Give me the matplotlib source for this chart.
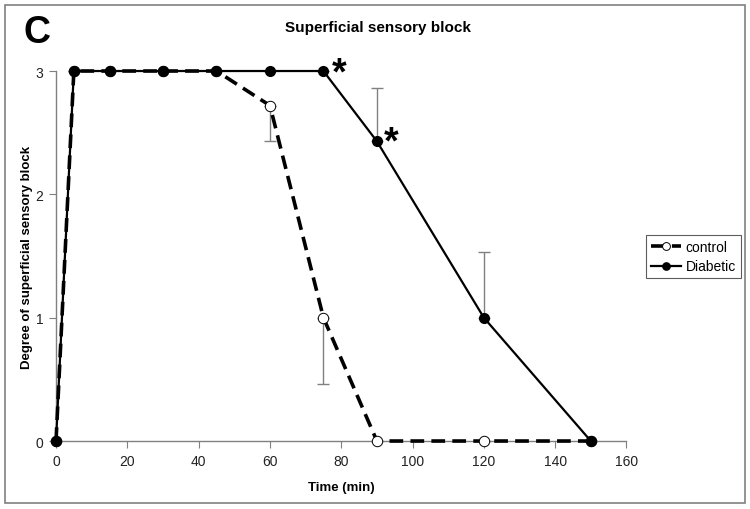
import matplotlib
matplotlib.use("Agg")
import matplotlib.pyplot as plt
from matplotlib.patches import Rectangle

plt.rcParams['font.family'] = ['Liberation Sans', 'DejaVu Sans']

time = [0, 5, 15, 30, 45, 60, 75, 90, 120, 150]
control = [0, 3, 3, 3, 3, 2.72, 1.0, 0, 0, 0]
control_err_low = [0, 0, 0, 0, 0, 0.29, 0.54, 0, 0, 0]
diabetic = [0, 3, 3, 3, 3, 3, 3, 2.43, 1.0, 0]
diabetic_err_up = [0, 0, 0, 0, 0, 0, 0, 0.43, 0.53, 0]
xticks = [0, 20, 40, 60, 80, 100, 120, 140, 160]
yticks = [0, 1, 2, 3]
star_x = [79.5, 94]
star_y = [2.98, 2.42]

fig = plt.figure(figsize=(7.5, 5.1), dpi=100)
ax = fig.add_axes([0.0747, 0.1333, 0.7606, 0.7255])

gray = '#808080'
# error bars
ax.errorbar(time, control, yerr=[control_err_low, [0]*len(time)], fmt='none',
            ecolor=gray, elinewidth=1, capsize=4, capthick=1, zorder=2, clip_on=False)
ax.errorbar(time, diabetic, yerr=[[0]*len(time), diabetic_err_up], fmt='none',
            ecolor=gray, elinewidth=1, capsize=4, capthick=1, zorder=2, clip_on=False)

lc, = ax.plot(time, control, color='black', lw=2.6, linestyle=(0, (3.8, 2.0)),
              marker='o', ms=7.5, mfc='white', mec='black', mew=0.7,
              label='control', zorder=3, clip_on=False)
ld, = ax.plot(time, diabetic, color='black', lw=1.6, marker='o', ms=7,
              mfc='black', mec='black', label='Diabetic', zorder=4, clip_on=False)

for sx, sy in zip(star_x, star_y):
    ax.text(sx, sy, '*', fontsize=27, fontweight='bold', ha='center', va='center',
            transform=ax.transData)

ax.set_xlim(0, 160)
ax.set_ylim(0, 3)
ax.set_xticks(xticks)
ax.set_yticks(yticks)
for s in ['top', 'right']:
    ax.spines[s].set_visible(False)
for s in ['left', 'bottom']:
    ax.spines[s].set_color(gray)
    ax.spines[s].set_linewidth(1)
ax.tick_params(axis='both', direction='out', length=5, color=gray,
               labelsize=10, labelcolor='#222222', pad=4)

ax.set_xlabel('Time (min)', fontsize=9.5, fontweight='bold', labelpad=10)
ax.set_ylabel('Degree of superficial sensory block', fontsize=9.5,
              fontweight='bold', labelpad=2)

fig.text(0.504, 0.945, 'Superficial sensory block', fontsize=11, fontweight='bold',
         ha='center', va='center')
fig.text(0.049, 0.935, 'C', fontsize=27, fontweight='bold', ha='center', va='center')

leg = fig.legend(handles=[lc, ld], loc='upper left',
                 bbox_to_anchor=(646/750, 1-236/510), frameon=True,
                 fancybox=False, fontsize=10, handlelength=2.2,
                 borderpad=0.35, labelspacing=0.4, handletextpad=0.3,
                 borderaxespad=0, markerscale=0.75)
leg.get_frame().set_edgecolor('#333333')
leg.get_frame().set_linewidth(0.8)

fig.patches.append(Rectangle((5/750, 6/510), 740/750, 498/510, transform=fig.transFigure,
                             fill=False, edgecolor=gray, lw=1.2))

fig.savefig('out.png', dpi=100)
